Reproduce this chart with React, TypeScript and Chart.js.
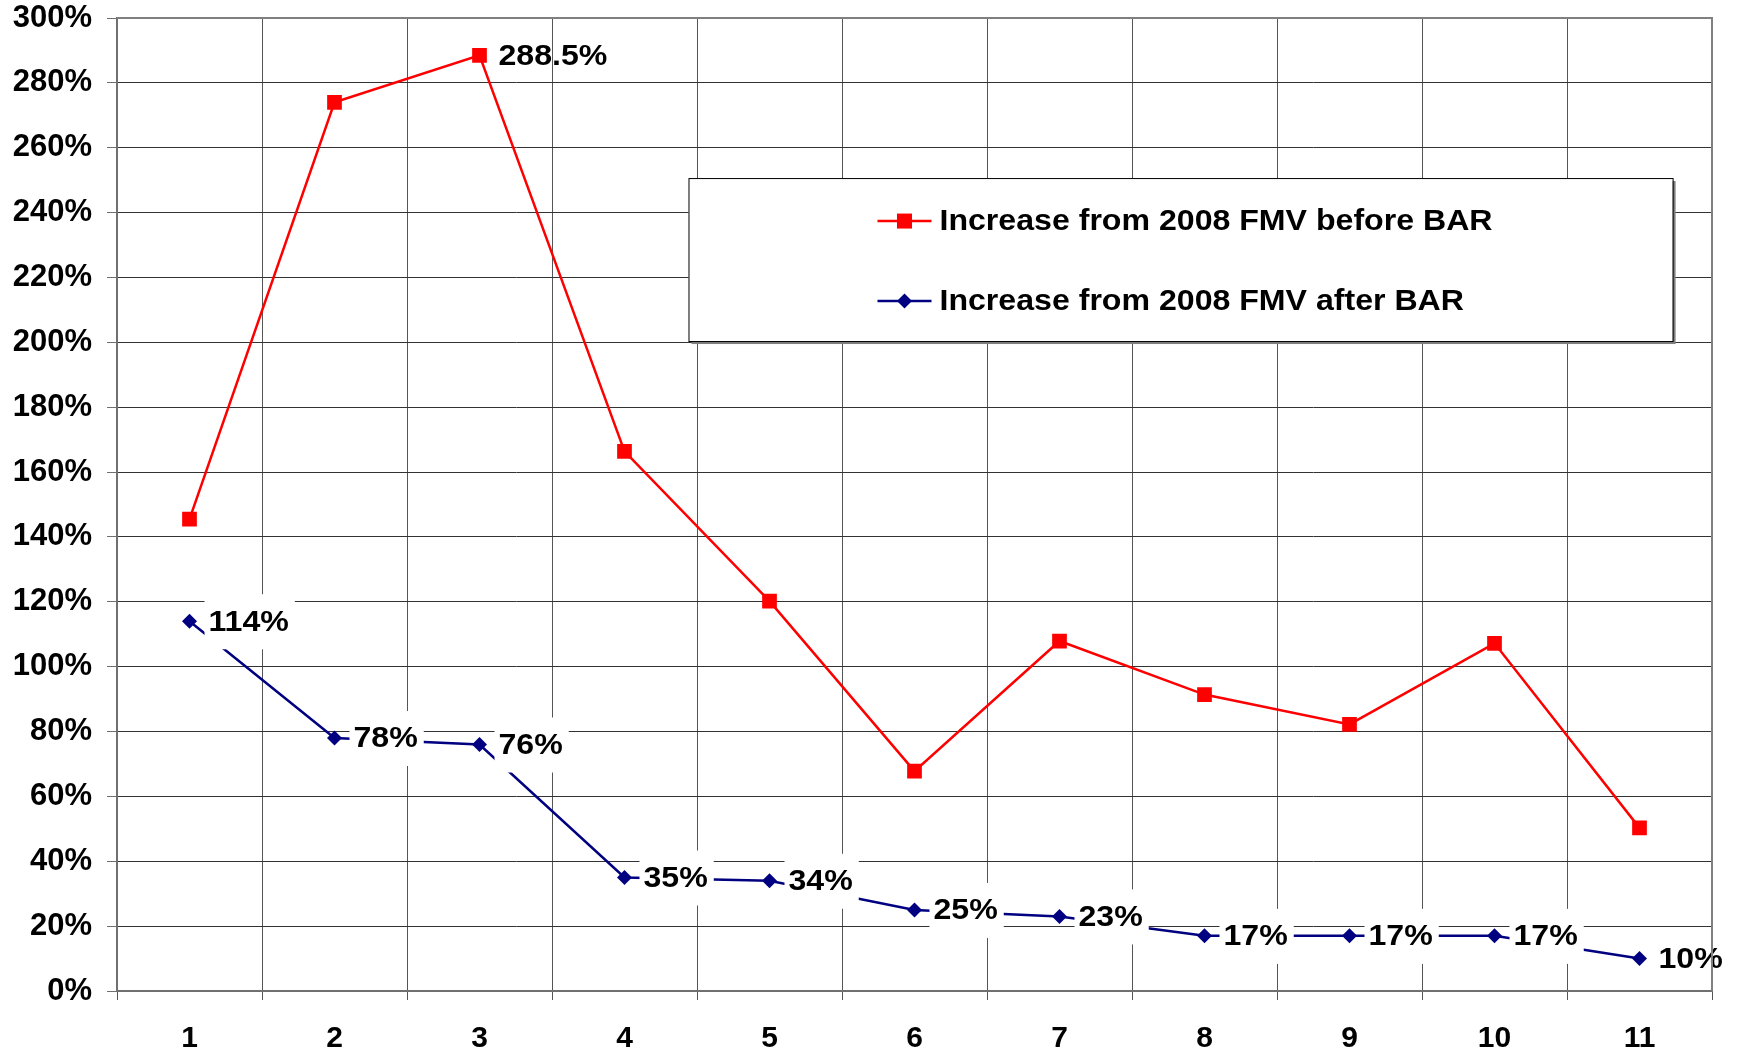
import React, { useEffect, useRef } from 'react';
import { Chart, registerables } from 'chart.js';

Chart.register(...registerables);

const categories = ['1', '2', '3', '4', '5', '6', '7', '8', '9', '10', '11'];
const beforeBAR = [145.5, 274, 288.5, 166.4, 120.2, 67.8, 107.9, 91.4, 82.2, 107.2, 50.3];
const afterBAR = [114, 78, 76, 35, 34, 25, 23, 17, 17, 17, 10];
const beforeLabels: (string | null)[] = [null, null, '288.5%', null, null, null, null, null, null, null, null];
const afterLabels: (string | null)[] = ['114%', '78%', '76%', '35%', '34%', '25%', '23%', '17%', '17%', '17%', '10%'];
const seriesNames = ['Increase from 2008 FMV before BAR', 'Increase from 2008 FMV after BAR'];
const yMin = 0;
const yMax = 300;
const yStep = 20;

const FAMILY = "'Liberation Sans', Arial, sans-serif";
const FONT = `bold 30px ${FAMILY}`;
const SX = 1.07;
const RED = '#FF0000';
const NAVY = '#000080';

function drawStretched(ctx: CanvasRenderingContext2D, txt: string, x: number, y: number) {
  ctx.save();
  ctx.translate(x, y);
  ctx.scale(SX, 1);
  ctx.fillText(txt, 0, 0);
  ctx.restore();
}

const labelsPlugin = {
  id: 'pointLabels',
  afterDatasetsDraw(chart: any) {
    const ctx = chart.ctx;
    ctx.save();
    ctx.font = FONT;
    ctx.textBaseline = 'middle';
    ctx.textAlign = 'left';
    const sets = [
      { idx: 0, labels: beforeLabels, bg: false },
      { idx: 1, labels: afterLabels, bg: true },
    ];
    sets.forEach(({ idx, labels, bg }) => {
      const meta = chart.getDatasetMeta(idx);
      meta.data.forEach((el: any, i: number) => {
        const txt = labels[i];
        if (!txt) return;
        const w = ctx.measureText(txt).width * SX;
        if (bg) {
          ctx.fillStyle = '#FFFFFF';
          ctx.fillRect(el.x + 15, el.y - 27, w + 10, 55);
        }
        ctx.fillStyle = '#000000';
        drawStretched(ctx, txt, el.x + 19, el.y + 1);
      });
    });
    ctx.restore();
  },
};

const framePlugin = {
  id: 'frameAndLegend',
  afterDraw(chart: any) {
    const ctx = chart.ctx;
    const a = chart.chartArea;
    ctx.save();
    ctx.strokeStyle = '#808080';
    ctx.lineWidth = 2;
    ctx.beginPath();
    ctx.moveTo(a.left, a.top);
    ctx.lineTo(a.right, a.top);
    ctx.lineTo(a.right, a.bottom);
    ctx.stroke();

    const w = a.right - a.left;
    const h = a.bottom - a.top;
    const bx = a.left + w * 0.3583;
    const by = a.top + h * 0.1645;
    const bw = w * 0.617;
    const bh = h * 0.1675;
    ctx.fillStyle = '#808080';
    ctx.fillRect(bx + 3, by + 3, bw, bh);
    ctx.fillStyle = '#FFFFFF';
    ctx.fillRect(bx, by, bw, bh);
    ctx.strokeStyle = '#000000';
    ctx.lineWidth = 1;
    ctx.strokeRect(bx + 0.5, by + 0.5, bw, bh);

    const lx1 = bx + 189;
    const lx2 = bx + 243;
    const mx = (lx1 + lx2) / 2;
    const rows = [
      { y: by + 43, color: RED, style: 'rect', name: seriesNames[0] },
      { y: by + 123, color: NAVY, style: 'rectRot', name: seriesNames[1] },
    ];
    rows.forEach((r) => {
      ctx.strokeStyle = r.color;
      ctx.lineWidth = 2.5;
      ctx.beginPath();
      ctx.moveTo(lx1, r.y);
      ctx.lineTo(lx2, r.y);
      ctx.stroke();
      ctx.fillStyle = r.color;
      ctx.beginPath();
      if (r.style === 'rect') {
        ctx.rect(mx - 7.5, r.y - 7.5, 15, 15);
      } else {
        ctx.moveTo(mx - 7.5, r.y);
        ctx.lineTo(mx, r.y - 7.5);
        ctx.lineTo(mx + 7.5, r.y);
        ctx.lineTo(mx, r.y + 7.5);
        ctx.closePath();
      }
      ctx.fill();
      ctx.fillStyle = '#000000';
      ctx.font = FONT;
      ctx.textAlign = 'left';
      ctx.textBaseline = 'middle';
      drawStretched(ctx, r.name, bx + 251, r.y + 1);
    });
    ctx.restore();
  },
};

export default function App() {
  const ref = useRef<HTMLCanvasElement | null>(null);
  useEffect(() => {
    if (!ref.current) return;
    const xFont = { family: FAMILY, size: 30, weight: 'bold' as const };
    const yFont = { family: FAMILY, size: 31, weight: 'bold' as const };
    const chart = new Chart(ref.current, {
      type: 'line',
      data: {
        labels: categories,
        datasets: [
          {
            label: seriesNames[0],
            data: beforeBAR,
            borderColor: RED,
            backgroundColor: RED,
            borderWidth: 2.5,
            pointStyle: 'rect',
            pointRadius: 10.4,
            pointBorderWidth: 0,
            pointBackgroundColor: RED,
            tension: 0,
          },
          {
            label: seriesNames[1],
            data: afterBAR,
            borderColor: NAVY,
            backgroundColor: NAVY,
            borderWidth: 2.5,
            pointStyle: 'rectRot',
            pointRadius: 7.5,
            pointBorderWidth: 0,
            pointBackgroundColor: NAVY,
            tension: 0,
          },
        ],
      },
      options: {
        animation: false,
        responsive: true,
        maintainAspectRatio: false,
        layout: { padding: { top: 18, right: 27, left: 0, bottom: 0 } },
        plugins: {
          legend: { display: false },
          tooltip: { enabled: false },
        },
        scales: {
          x: {
            type: 'category',
            offset: true,
            grid: {
              offset: true,
              color: '#555555',
              lineWidth: 1,
              tickLength: 9,
              tickColor: '#555555',
            },
            border: { color: '#707070', width: 2 },
            ticks: { color: '#000000', font: xFont, padding: 21 },
            afterFit: (s: any) => {
              s.height = 62;
              s.paddingLeft = 0;
              s.paddingRight = 0;
            },
          },
          y: {
            min: yMin,
            max: yMax,
            grid: {
              color: '#333333',
              lineWidth: 1,
              tickLength: 10,
              tickColor: '#707070',
            },
            border: { color: '#707070', width: 2 },
            ticks: {
              stepSize: yStep,
              color: '#000000',
              font: yFont,
              padding: 15,
              callback: (v: any) => `${v}%`,
            },
            afterFit: (s: any) => {
              s.width = 117;
              s.paddingTop = 0;
              s.paddingBottom = 0;
            },
          },
        },
      },
      plugins: [labelsPlugin, framePlugin],
    });
    return () => chart.destroy();
  }, []);
  return (
    <div style={{ position: 'absolute', left: 0, top: 0, width: 1739, height: 1053, background: '#FFFFFF' }}>
      <canvas ref={ref} />
    </div>
  );
}
